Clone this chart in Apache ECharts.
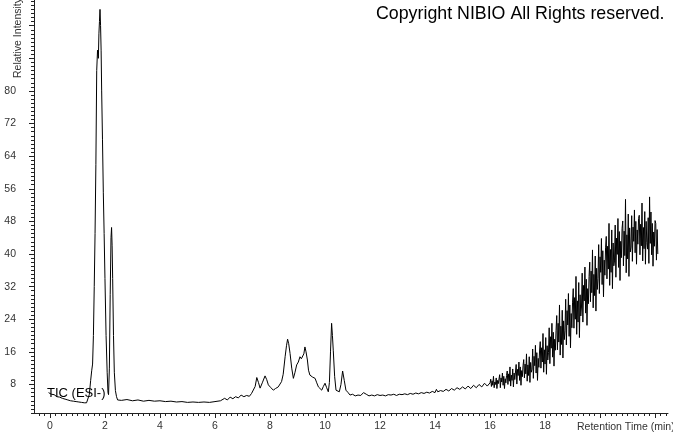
<!DOCTYPE html>
<html><head><meta charset="utf-8">
<script src="https://cdn.jsdelivr.net/npm/echarts@6/dist/echarts.min.js"></script>
<style>html,body{margin:0;padding:0;background:#fff}#c{width:673px;height:433px}</style>
</head><body><div id="c"></div>
<script>
// Retention time (min) and relative intensity
const startTimes = [-0.05,0.05,0.15,0.25,0.35,0.45,0.55,0.65,0.75,0.85,0.95,1.05,1.15,1.25,1.33];
const startValues = [6.0,5.6,5.5,5.0,4.9,4.6,4.4,4.2,4.0,3.9,3.8,3.7,3.6,3.5,3.5];

const peakTimes = [1.38,1.43,1.48,1.52,1.55,1.58,1.61,1.64,1.67,1.70,1.73,1.76,1.78,1.80,1.82,1.84,1.86,1.88,1.91,1.94,1.97,2.00,2.04,2.08,2.11,2.13,2.16,2.19,2.22,2.24,2.26,2.28,2.31,2.34,2.38,2.42,2.46,2.52];
const peakValues = [3.8,5.5,9,11.5,13,20,32,45,62,85,90,88,94,97,100,96,90,80,68,55,45,34,20,11,6,5.5,12,30,44,46.5,42,34,20,11,6.5,5,4.2,3.8];

const baselineTimes = [2.6,2.8,3.0,3.2,3.4,3.6,3.8,4.0,4.2,4.4,4.6,4.8,5.0,5.2,5.4,5.6,5.8,6.0,6.2,6.35,6.45,6.55,6.65,6.75,6.85,6.95,7.05,7.15,7.25,7.33];
const baselineValues = [4.1,4.3,4.0,4.2,3.9,4.1,3.9,4.0,3.8,3.9,3.7,3.8,3.6,3.7,3.6,3.7,3.6,3.8,4.0,4.6,4.2,4.9,4.5,5.0,4.7,5.4,5.0,5.3,5.1,5.8];

const midTimes = [7.39,7.46,7.52,7.58,7.64,7.72,7.82,7.88,7.94,8.02,8.12,8.2,8.3,8.36,8.42,8.48,8.55,8.6,8.64,8.68,8.73,8.79,8.85,8.91,8.97,9.03,9.09,9.14,9.19,9.23,9.27,9.31,9.36,9.4,9.45,9.55,9.64,9.7,9.76,9.82,9.88,9.94,10.0,10.06,10.12,10.16,10.2,10.24,10.27,10.3,10.35,10.4,10.46,10.52,10.58,10.64,10.7,10.76,10.84,10.91,11.0,11.1,11.2,11.3,11.4,11.5,11.6];
const midValues = [5.8,7.5,9.7,8.5,7.1,8.4,10.1,9.2,7.9,7.3,6.6,7.0,7.4,7.8,8.7,10.5,14.8,17.5,19.1,18.0,15.6,12.0,9.5,11.0,12.8,13.5,14.8,14.3,14.0,15.5,17.2,16.0,14.0,11.5,10.3,9.8,9.5,8.4,7.4,7.0,6.6,7.5,8.3,7.2,6.2,8.5,16,23.0,20,16.4,10,6.6,6.4,6.2,8.0,11.3,9.0,6.6,6.0,5.4,5.6,5.2,5.4,5.3,6.0,5.6,5.2];

const riseTimes = [11.7,11.8,11.9,12.0,12.1,12.2,12.3,12.4,12.5,12.6,12.7,12.8,12.9,13.0,13.1,13.2,13.3,13.4,13.5,13.6,13.7,13.8,13.9,14.0,14.05,14.1,14.2,14.3,14.4,14.5,14.6,14.7,14.8,14.9,15.0,15.1,15.2,15.3,15.4,15.5,15.6,15.7,15.8,15.9,16.0];
const riseValues = [5.4,5.2,5.5,5.3,5.4,5.2,5.5,5.4,5.6,5.3,5.6,5.5,5.7,5.5,5.8,5.6,5.9,5.7,6.0,5.8,6.1,5.9,6.3,6.0,6.8,6.2,6.5,6.3,6.8,6.4,7.0,6.6,7.2,6.8,7.4,6.9,7.6,7.0,7.8,7.2,8.0,7.4,8.3,7.6,8.4];

// Noisy tail sampled every 0.025 min after 16.0 min
const noiseStart = 16.0;
const noiseStep = 0.025;
const noiseValues = [
9.3,7.5,8.9,7.8,10.0,7.2,8.6,8.0,9.6,7.0,9.0,8.2,
8.2,10.4,7.2,9.6,8.6,10.8,7.8,10.0,7.0,9.4,8.4,10.2,
11.3,8.0,10.6,8.8,12.3,7.6,10.3,9.0,11.8,7.4,10.8,9.2,
9.6,12.9,8.1,11.7,10.2,13.5,9.0,12.3,7.8,11.4,9.9,12.6,
14.1,9.6,13.0,10.6,15.5,8.8,12.8,10.2,14.8,8.5,13.4,11.0,
11.7,16.7,9.5,14.9,12.6,17.6,10.8,15.8,9.0,14.4,12.2,16.2,
18.5,12.0,17.0,13.5,20.5,11.0,16.5,13.0,19.5,10.5,17.5,14.0,
15.8,21.9,13.1,19.7,16.9,23.0,14.7,20.8,12.5,19.1,16.4,21.3,
24.9,16.5,23.0,18.4,27.5,15.2,22.3,17.8,26.2,14.5,23.6,19.0,
21.2,28.9,17.7,26.1,22.6,30.3,19.8,27.5,17.0,25.4,21.9,28.2,
31.5,21.8,29.3,24.0,34.5,20.3,28.5,23.3,33.0,19.5,30.0,24.8,
27.0,35.3,23.3,32.3,28.5,36.8,25.5,33.8,22.5,31.5,27.8,34.5,
38.0,28.3,35.8,30.5,41.0,26.8,35.0,29.8,39.5,26.0,36.5,31.3,
34.0,42.3,30.3,39.3,35.5,43.8,32.5,40.8,29.5,38.5,34.8,41.5,
44.3,33.9,41.9,36.3,47.5,32.3,41.1,35.5,45.9,31.5,42.7,37.1,
38.3,47.1,34.3,43.9,39.9,48.7,36.7,45.5,33.5,43.1,39.1,46.3,
48.1,37.1,45.6,39.6,53.4,35.4,44.7,38.8,49.8,34.5,46.4,40.5,
41.7,49.4,38.2,46.6,43.1,50.8,40.3,48.0,37.5,45.9,42.4,48.7,
49.5,39.8,47.3,42.0,52.5,38.3,46.5,41.3,50.4,37.5,48.0,42.8,
41.2,48.9,37.7,54.0,42.6,50.3,39.8,47.5,37.0,45.4,41.9,48.2,
47.5,38.5,46.0,40.0];

// Axis tick labels
const xTickLabels = [0,2,4,6,8,10,12,14,16,18];
const xMajorTicks = [0,2,4,6,8,10,12,14,16,18,20,22];
const yTickLabels = [8,16,24,32,40,48,56,64,72,80];
const yMajorTicks = [8,16,24,32,40,48,56,64,72,80,88,96];

const data = [];
const pushPairs = (ts, vs) => ts.forEach((t, i) => data.push([t, vs[i]]));
pushPairs(startTimes, startValues);
pushPairs(peakTimes, peakValues);
pushPairs(baselineTimes, baselineValues);
pushPairs(midTimes, midValues);
pushPairs(riseTimes, riseValues);
noiseValues.forEach((v, i) => data.push([+(noiseStart + (i + 1) * noiseStep).toFixed(3), v]));

const xMin = -0.58, xMax = 22.47, yMin = 1, yMax = 102.3;
const xMinor = []; for (let k = -2; k <= 112; k++) xMinor.push(+(k * 0.2).toFixed(2));
const yMinor = []; for (let k = 1; k <= 102; k++) yMinor.push(k);

const FONT = '"Liberation Sans", Arial, sans-serif';
const chart = echarts.init(document.getElementById('c'), null, {renderer: 'canvas'});
chart.setOption({
  animation: false,
  backgroundColor: '#fff',
  grid: {left: 34, right: 5, top: 0, bottom: 20, containLabel: false},
  xAxis: [{
    type: 'value', min: xMin, max: xMax, position: 'bottom',
    splitLine: {show: false},
    axisLine: {show: true, onZero: false, lineStyle: {color: '#222', width: 1}},
    axisTick: {show: true, length: 5, customValues: xMajorTicks, lineStyle: {color: '#222'}},
    axisLabel: {show: true, customValues: xTickLabels, margin: 8, color: '#333', fontSize: 10.5, fontFamily: FONT}
  }, {
    type: 'value', min: xMin, max: xMax, position: 'bottom',
    splitLine: {show: false},
    axisLine: {show: false, onZero: false},
    axisTick: {show: true, length: 3, customValues: xMinor, lineStyle: {color: '#222'}},
    axisLabel: {show: false}
  }],
  yAxis: [{
    type: 'value', min: yMin, max: yMax, position: 'left',
    splitLine: {show: false},
    axisLine: {show: true, onZero: false, lineStyle: {color: '#222', width: 1}},
    axisTick: {show: true, length: 5, customValues: yMajorTicks, lineStyle: {color: '#222'}},
    axisLabel: {show: true, customValues: yTickLabels, margin: 18, color: '#333', fontSize: 10.5, fontFamily: FONT}
  }, {
    type: 'value', min: yMin, max: yMax, position: 'left',
    splitLine: {show: false},
    axisLine: {show: false, onZero: false},
    axisTick: {show: true, length: 3, customValues: yMinor, lineStyle: {color: '#222'}},
    axisLabel: {show: false}
  }],
  series: [{
    type: 'line', data: data, xAxisIndex: 0, yAxisIndex: 0,
    showSymbol: false, symbol: 'none', sampling: null,
    lineStyle: {color: '#000', width: 1}, clip: true
  }],
  graphic: [
    {type: 'text', x: 376, y: 14, style: {text: 'Copyright NIBIO All Rights reserved.', font: '17.8px ' + FONT, fill: '#000', verticalAlign: 'middle'}},
    {type: 'text', x: 47, y: 393, z: 10, style: {text: 'TIC (ESI-)', font: '13px ' + FONT, fill: '#000', verticalAlign: 'middle'}},
    {type: 'text', x: 577, y: 427, style: {text: 'Retention Time (min)', font: '10.5px ' + FONT, fill: '#333', verticalAlign: 'middle'}},
    {type: 'text', x: 18, y: 38, rotation: Math.PI / 2, style: {text: 'Relative Intensity', font: '10.5px ' + FONT, fill: '#333', align: 'center', verticalAlign: 'middle'}}
  ]
});
</script>
</body></html>
